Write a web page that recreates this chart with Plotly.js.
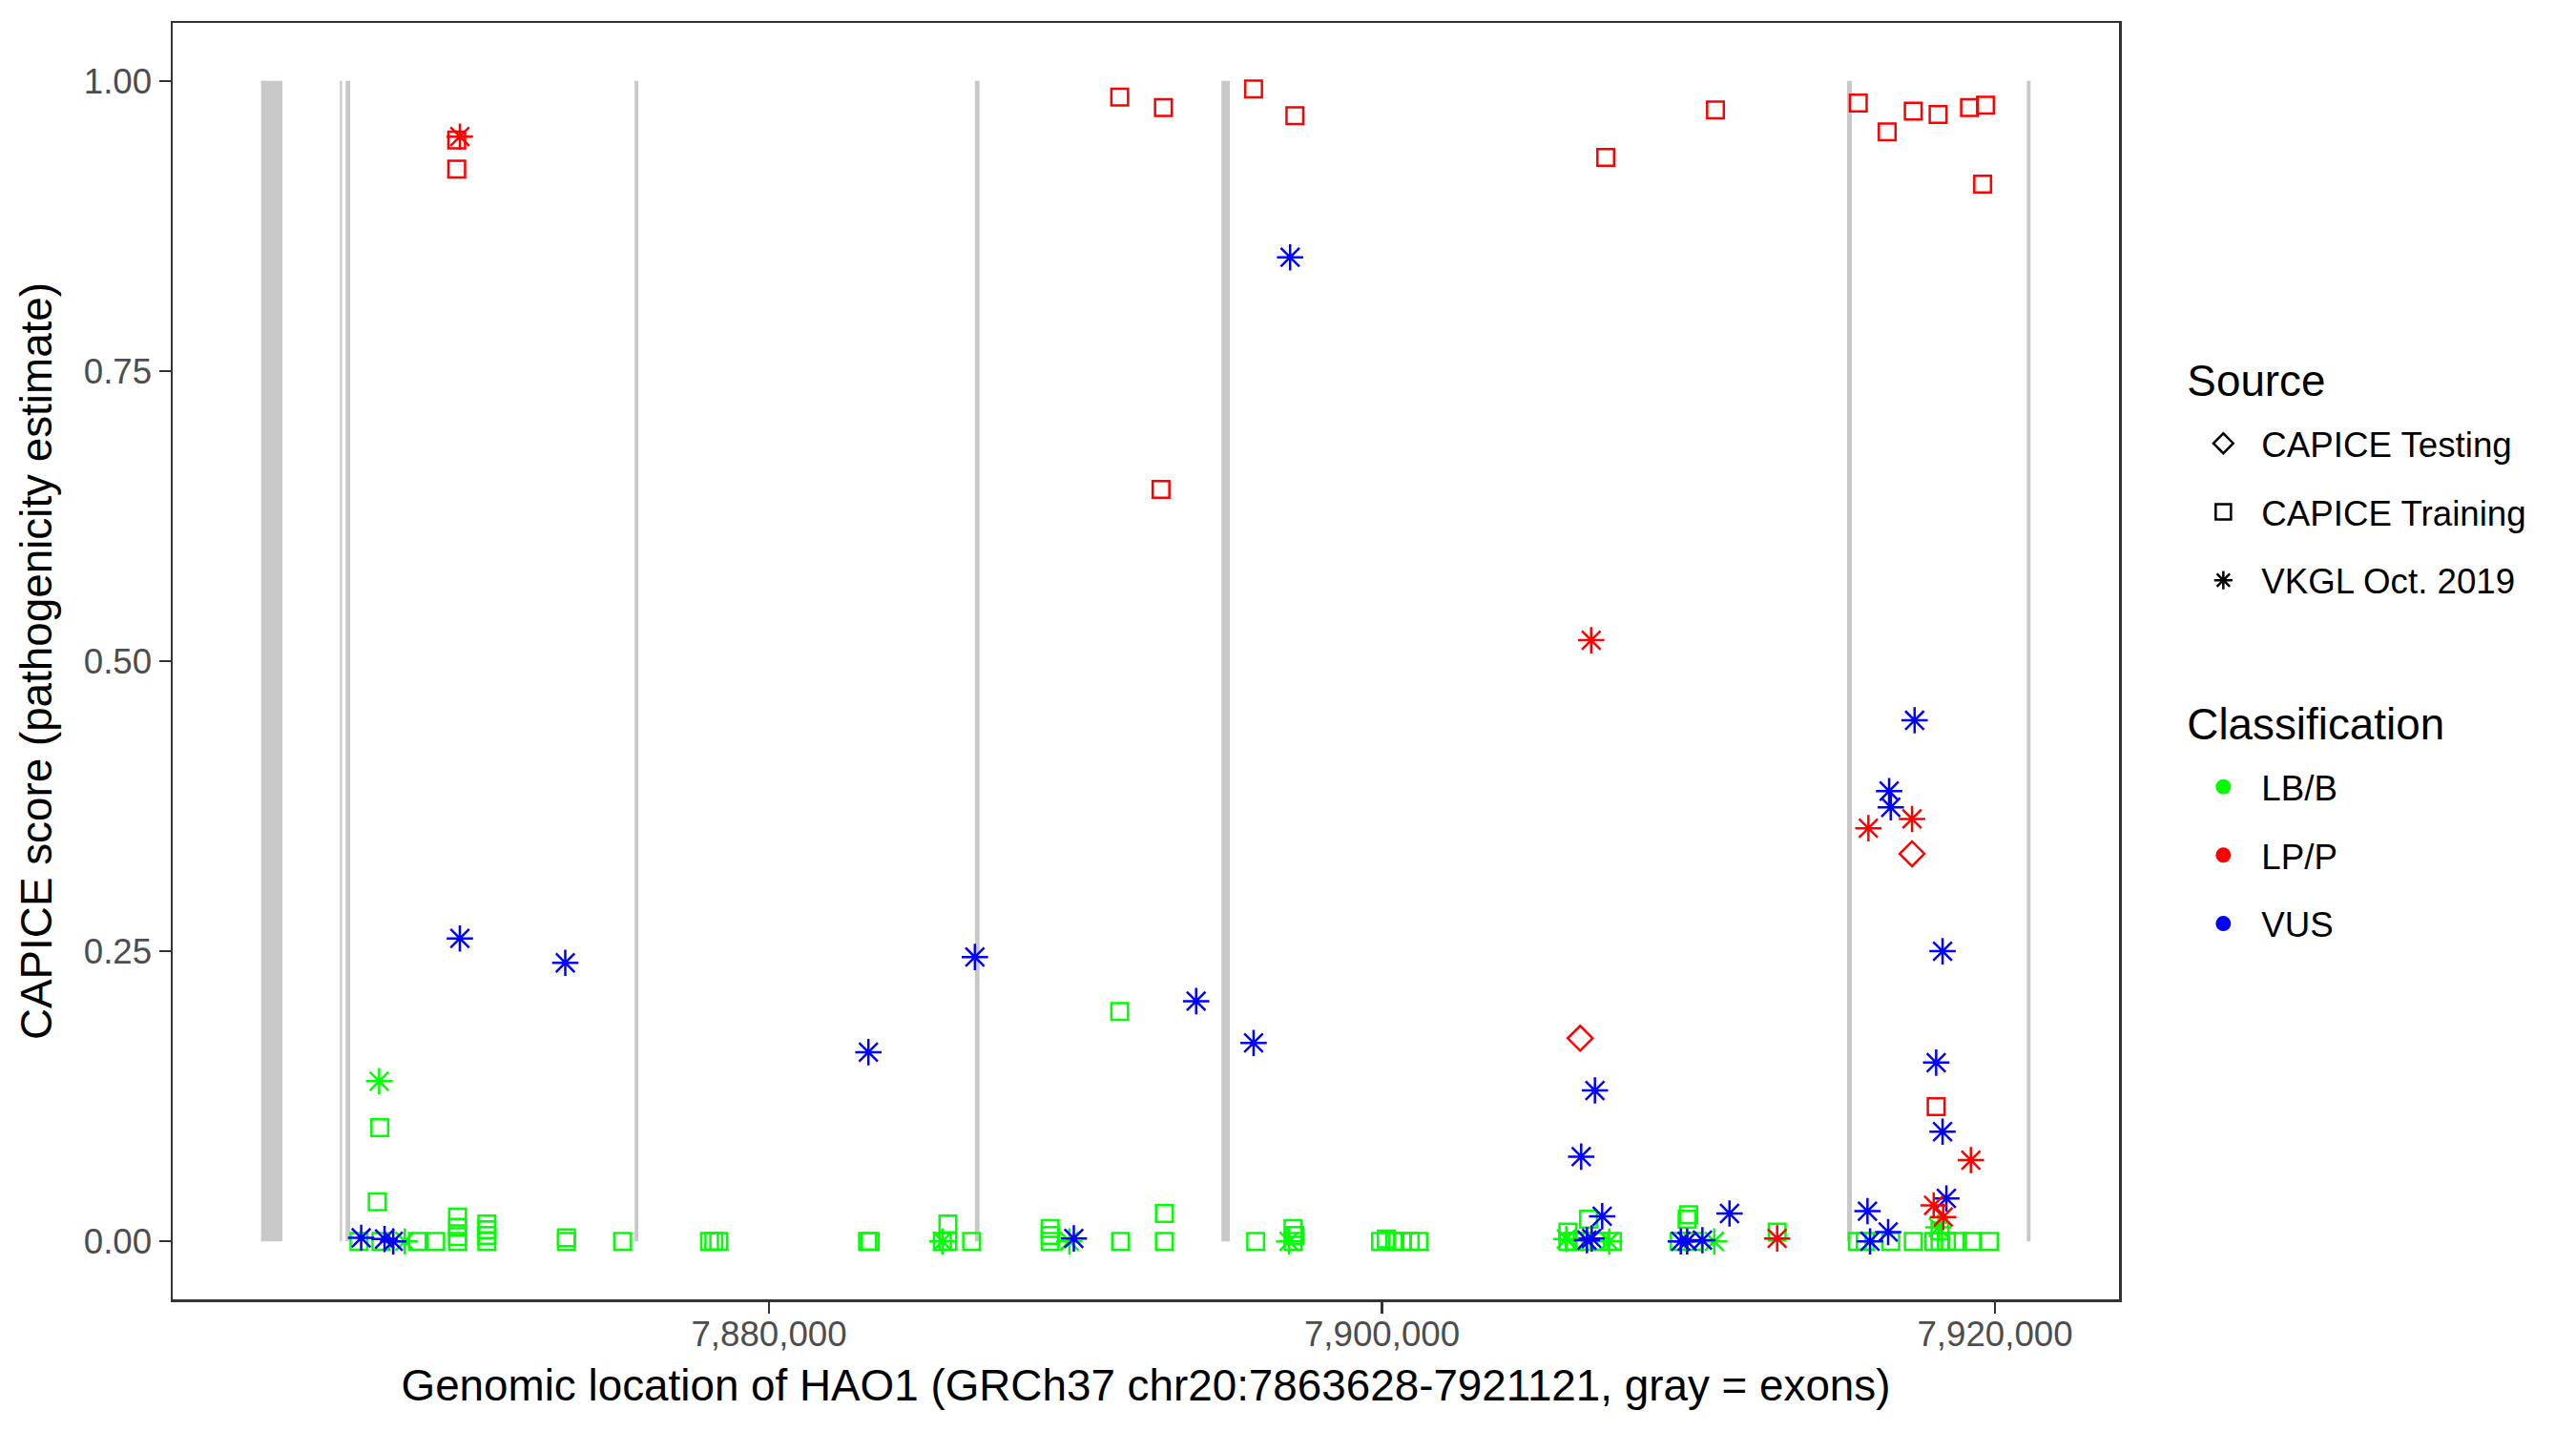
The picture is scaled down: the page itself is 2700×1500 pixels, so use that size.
<!DOCTYPE html>
<html>
<head>
<meta charset="utf-8">
<script src="https://cdn.plot.ly/plotly-3.0.1.min.js"></script>
<style>html,body{margin:0;padding:0;background:#fff;}#chart{width:2700px;height:1500px;}</style>
</head>
<body>
<div id="chart"></div>
<script>
// Exons of HAO1 (gray bars)
var exonStart = [7863430, 7866000, 7866187, 7875617, 7886718, 7894762, 7915177, 7921039];
var exonEnd   = [7864125, 7866070, 7866340, 7875735, 7886870, 7895036, 7915332, 7921161];

// LB/B, CAPICE Training (green squares)
var lbbTrainX = [7866623, 7867218, 7867302, 7867339, 7868529, 7869126, 7869839, 7869839, 7869839, 7869839,
  7870794, 7870794, 7870794, 7870794, 7873391, 7873391, 7875225, 7878061, 7878200, 7878360,
  7883216, 7883300, 7885659, 7885837, 7885837, 7886612, 7889174, 7889174, 7889174, 7891443,
  7891472, 7892901, 7892901, 7895880, 7897097, 7897097, 7897160, 7899954, 7900141, 7900421,
  7900670, 7900919, 7901200, 7906065, 7906065, 7906274, 7906532, 7906740, 7907104, 7907518,
  7909698, 7909957, 7910009, 7910165, 7912894, 7915510, 7915769, 7916600, 7917334, 7918000,
  7918206, 7918206, 7918415, 7918779, 7919246, 7919816];
var lbbTrainY = [0, 0.034, 0.098, 0, 0, 0, 0, 0.004, 0.012, 0.021,
  0, 0.005, 0.010, 0.015, 0, 0.003, 0, 0, 0, 0,
  0, 0, 0, 0, 0.015, 0, 0, 0.005, 0.011, 0.198,
  0, 0, 0.024, 0, 0, 0.011, 0.005, 0, 0.002, 0,
  0, 0, 0, 0, 0.008, 0, 0, 0.019, 0, 0,
  0, 0.019, 0.023, 0, 0.008, 0, 0, 0, 0, 0,
  0, 0.009, 0, 0, 0, 0];

// LB/B, VKGL (green asterisks)
var lbbVkglX = [7867281, 7868118, 7885659, 7889800, 7896970, 7906015, 7907414, 7910841, 7918155];
var lbbVkglY = [0.138, 0, 0, 0, 0, 0.002, 0, 0, 0.012];

// LP/P, CAPICE Training (red squares)
var lppTrainX = [7869812, 7869812, 7891443, 7892869, 7892791, 7895811, 7897159, 7907301, 7910881,
  7915541, 7916484, 7917334, 7918144, 7919171, 7919691, 7919598, 7918082];
var lppTrainY = [0.949, 0.924, 0.986, 0.977, 0.648, 0.993, 0.970, 0.934, 0.975,
  0.981, 0.956, 0.974, 0.971, 0.977, 0.979, 0.911, 0.116];

// LP/P, VKGL (red asterisks)
var lppVkglX = [7869914, 7906826, 7912894, 7915871, 7917294, 7919214, 7918000, 7918311];
var lppVkglY = [0.952, 0.518, 0.0025, 0.356, 0.364, 0.070, 0.031, 0.021];

// LP/P, CAPICE Testing (red diamonds)
var lppTestX = [7906466, 7917294];
var lppTestY = [0.175, 0.334];

// VUS, VKGL (blue asterisks)
var vusVkglX = [7866695, 7867457, 7867740, 7869914, 7873354, 7883244, 7886718, 7889946, 7893937, 7895811,
  7897003, 7906500, 7906948, 7907185, 7906688, 7906843, 7909750, 7909957, 7910455, 7911339,
  7915840, 7915924, 7916515, 7916547, 7916600, 7917378, 7918290, 7918082, 7918290, 7918415];
var vusVkglY = [0.003, 0.002, 0, 0.261, 0.240, 0.163, 0.245, 0.0025, 0.207, 0.171,
  0.848, 0.073, 0.130, 0.0216, 0.001, 0.0025, 0, 0, 0.001, 0.024,
  0.026, 0, 0.008, 0.388, 0.374, 0.449, 0.250, 0.154, 0.0945, 0.037];

var sourceNames = ['CAPICE Testing', 'CAPICE Training', 'VKGL Oct. 2019'];
var sourceSymbols = ['diamond-open', 'square-open', 'asterisk-open'];
var classNames = ['LB/B', 'LP/P', 'VUS'];
var classColors = ['#00FF00', '#FF0000', '#0000FF'];

var yTicks = [0, 0.25, 0.5, 0.75, 1];
var xTicks = [7880000, 7900000, 7920000];

var symSize = {'diamond-open': 20, 'square-open': 17.5, 'asterisk-open': 23};

function pts(x, y, cls, src) {
  var sym = sourceSymbols[src];
  return {
    type: 'scatter', mode: 'markers', x: x, y: y, showlegend: false, hoverinfo: 'x+y',
    marker: {symbol: sym, size: symSize[sym], color: classColors[cls],
             line: {width: 2.5, color: classColors[cls]}}
  };
}

var data = [
  pts(lbbTrainX, lbbTrainY, 0, 1),
  pts(lbbVkglX, lbbVkglY, 0, 2),
  pts(lppTrainX, lppTrainY, 1, 1),
  pts(lppTestX, lppTestY, 1, 0),
  pts(vusVkglX, vusVkglY, 2, 2),
  pts(lppVkglX, lppVkglY, 1, 2)
];

var FONT = 'Liberation Sans, Arial, Helvetica, sans-serif';

// Legend entries
sourceNames.forEach(function (n, i) {
  var t = {type: 'scatter', mode: 'markers', x: [null], y: [null], name: n, legend: 'legend',
    legendgroup: 's' + i, showlegend: true,
    marker: {symbol: sourceSymbols[i], size: 16, color: '#000', line: {width: 2.5, color: '#000'}}};
  if (i === 0) t.legendgrouptitle = {text: ' ', font: {family: FONT, size: 12}};
  data.push(t);
});
classNames.forEach(function (n, i) {
  var t = {type: 'scatter', mode: 'markers', x: [null], y: [null], name: n, legend: 'legend2',
    legendgroup: 'c' + i, showlegend: true,
    marker: {symbol: 'circle', size: 16, color: classColors[i]}};
  if (i === 0) t.legendgrouptitle = {text: ' ', font: {family: FONT, size: 12}};
  data.push(t);
});

var shapes = exonStart.map(function (s, i) {
  return {type: 'rect', xref: 'x', yref: 'y', x0: s, x1: exonEnd[i], y0: 0, y1: 1,
          fillcolor: '#C8C8C8', line: {width: 0}, layer: 'below'};
});

var legendCommon = {
  xanchor: 'left', yanchor: 'top', x: 1.034,
  font: {family: FONT, size: 36.7, color: '#000'},
  tracegroupgap: 21, itemwidth: 70, bgcolor: 'rgba(0,0,0,0)', borderwidth: 0
};

var layout = {
  width: 2700, height: 1500,
  margin: {l: 181, r: 479, t: 24, b: 138, pad: 0},
  paper_bgcolor: '#fff', plot_bgcolor: '#fff',
  font: {family: FONT, color: '#000'},
  showlegend: true,
  shapes: shapes,
  xaxis: {
    range: [7860545, 7924047], tickvals: xTicks, tickformat: ',d',
    showgrid: false, zeroline: false, showline: true, mirror: true,
    linecolor: '#333333', linewidth: 2.5,
    ticks: 'outside', ticklen: 12, tickwidth: 2.5, tickcolor: '#333333',
    ticklabelstandoff: -10,
    tickfont: {family: FONT, size: 36.7, color: '#4D4D4D'},
    title: {text: 'Genomic location of HAO1 (GRCh37 chr20:7863628-7921121, gray = exons)',
            font: {family: FONT, size: 45.8, color: '#000'}, standoff: 19}
  },
  yaxis: {
    range: [-0.05, 1.05], tickvals: yTicks, tickformat: '.2f',
    showgrid: false, zeroline: false, showline: true, mirror: true,
    linecolor: '#333333', linewidth: 2.5,
    ticks: 'outside', ticklen: 12, tickwidth: 2.5, tickcolor: '#333333',
    tickfont: {family: FONT, size: 36.7, color: '#4D4D4D'},
    title: {text: 'CAPICE score (pathogenicity estimate)',
            font: {family: FONT, size: 45.8, color: '#000'}, standoff: 19}
  },
  legend: Object.assign({}, legendCommon, {y: 0.752,
    title: {text: 'Source', font: {family: FONT, size: 45.8, color: '#000'}}}),
  legend2: Object.assign({}, legendCommon, {y: 0.483,
    title: {text: 'Classification', font: {family: FONT, size: 45.8, color: '#000'}}})
};

Plotly.newPlot('chart', data, layout, {displayModeBar: false, staticPlot: true});
</script>
</body>
</html>
